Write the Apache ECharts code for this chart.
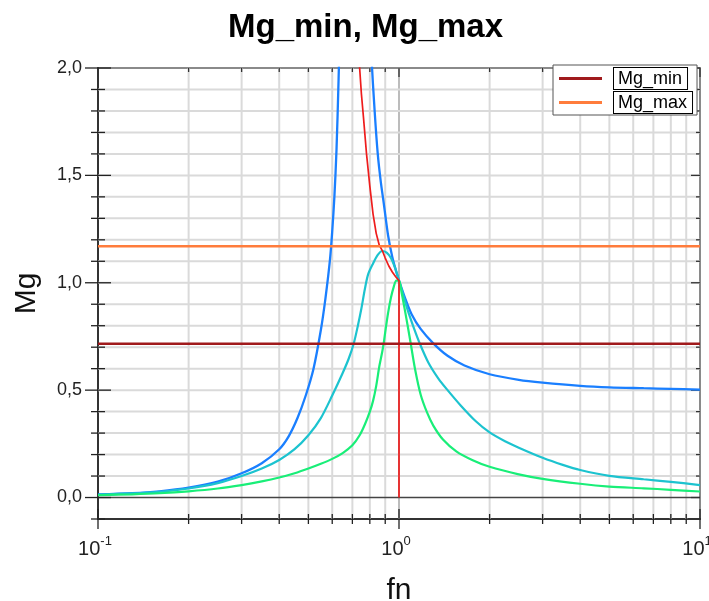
<!DOCTYPE html>
<html><head><meta charset="utf-8">
<script src="https://cdn.jsdelivr.net/npm/echarts@6/dist/echarts.min.js"></script>
<style>html,body{margin:0;padding:0;background:#fff}#c{width:709px;height:601px}</style>
</head><body><div id="c"></div>
<script>
// ---- data ----
const fnBlue = [0.1, 0.13, 0.16, 0.2, 0.25, 0.3, 0.35, 0.4, 0.43, 0.46, 0.49, 0.52, 0.55, 0.57, 0.59, 0.6, 0.61, 0.62, 0.63, 0.64, 0.7,
                0.79, 0.8, 0.81, 0.83, 0.85, 0.87, 0.89, 0.92, 0.95, 0.98, 1.0, 1.05, 1.1, 1.18, 1.3, 1.45, 1.65, 2.0, 2.5, 3.0, 4.0, 5.0, 6.5, 8.0, 10];
const mgBlue = [0.014, 0.02, 0.029, 0.046, 0.074, 0.113, 0.16, 0.225, 0.285, 0.37, 0.475, 0.6, 0.78, 0.93, 1.11, 1.24, 1.4, 1.62, 1.95, 2.35, null,
                2.5, 2.25, 2.05, 1.8, 1.6, 1.47, 1.37, 1.22, 1.12, 1.05, 1.01, 0.925, 0.855, 0.785, 0.718, 0.66, 0.615, 0.574, 0.548, 0.535, 0.52, 0.513, 0.509, 0.506, 0.502];

const fnCyan = [0.1, 0.13, 0.16, 0.2, 0.25, 0.3, 0.35, 0.4, 0.45, 0.5, 0.55, 0.6, 0.65, 0.68, 0.707, 0.73, 0.75, 0.77, 0.79, 0.82, 0.85, 0.88, 0.91, 0.94, 0.97, 1.0,
                1.03, 1.07, 1.12, 1.17, 1.25, 1.35, 1.45, 1.6, 1.8, 2.0, 2.25, 2.5, 3.0, 3.5, 4.0, 5.0, 6.5, 8.0, 10];
const mgCyan = [0.013, 0.019, 0.027, 0.042, 0.067, 0.1, 0.135, 0.175, 0.225, 0.29, 0.37, 0.475, 0.58, 0.645, 0.716, 0.8, 0.88, 0.97, 1.04, 1.09, 1.13, 1.148, 1.14, 1.115, 1.07, 1.01,
                0.95, 0.87, 0.79, 0.72, 0.63, 0.555, 0.5, 0.43, 0.355, 0.303, 0.262, 0.232, 0.185, 0.152, 0.128, 0.101, 0.085, 0.073, 0.058];

const fnGreen = [0.1, 0.13, 0.16, 0.2, 0.25, 0.3, 0.35, 0.4, 0.45, 0.5, 0.55, 0.6, 0.65, 0.7, 0.74, 0.77, 0.8, 0.82, 0.84, 0.86, 0.88, 0.89, 0.9, 0.92, 0.94, 0.96, 0.98, 1.0,
                 1.02, 1.05, 1.09, 1.13, 1.18, 1.24, 1.3, 1.4, 1.55, 1.75, 2.0, 2.5, 3.0, 4.0, 5.0, 6.5, 8.0, 10];
const mgGreen = [0.011, 0.015, 0.02, 0.029, 0.042, 0.058, 0.075, 0.093, 0.113, 0.135, 0.157, 0.18, 0.207, 0.243, 0.29, 0.34, 0.4, 0.45, 0.52, 0.61, 0.68, 0.72, 0.77, 0.86, 0.93, 0.98, 1.01, 1.01,
                 0.955, 0.86, 0.73, 0.6, 0.48, 0.395, 0.335, 0.27, 0.215, 0.175, 0.143, 0.108, 0.087, 0.064, 0.051, 0.043, 0.036, 0.028];

const fnRed = [0.73, 0.74, 0.75, 0.762, 0.78, 0.8, 0.82, 0.84, 0.86, 0.88, 0.9, 0.925, 0.95, 0.975, 1.0, 1.0];
const mgRed = [2.25, 2.0, 1.88, 1.77, 1.6, 1.45, 1.32, 1.23, 1.175, 1.15, 1.115, 1.078, 1.05, 1.028, 1.01, 0.0];

const fnSpan = [0.1, 10];
const mgMinLevel = 0.716;
const mgMaxLevel = 1.17;

const xTicksMajor = [0.1, 1, 10];
const xTicksMinor = [0.2, 0.3, 0.4, 0.5, 0.6, 0.7, 0.8, 0.9, 2, 3, 4, 5, 6, 7, 8, 9];
const yTicks = [-0.1, 0, 0.1, 0.2, 0.3, 0.4, 0.5, 0.6, 0.7, 0.8, 0.9, 1.0, 1.1, 1.2, 1.3, 1.4, 1.5, 1.6, 1.7, 1.8, 1.9, 2.0];
const yTicksMajor = [0, 0.5, 1.0, 1.5, 2.0];

// ---- helpers ----
const FONT = '"Liberation Sans", Arial, sans-serif';
function zip(xs, ys) { return xs.map((x, i) => [x, ys[i] === null ? '-' : ys[i]]); }

function renderXTick(params, api) {
  const v = api.value(0);
  const major = api.value(1) === 1;
  const cs = params.coordSys;
  const px = api.coord([v, 0])[0];
  const top = cs.y, bot = cs.y + cs.height;
  const ch = [];
  const edge = Math.abs(px - cs.x) < 1 || Math.abs(px - (cs.x + cs.width)) < 1;
  if (!edge) ch.push({type: 'line', shape: {x1: px, y1: top, x2: px, y2: bot}, style: {stroke: major ? '#bcbcbc' : '#dadada', lineWidth: 2}});
  const L = major ? 10 : 5, T = major ? 9 : 4;
  ch.push({type: 'line', shape: {x1: px, y1: bot - L, x2: px, y2: bot + L}, style: {stroke: '#222', lineWidth: 1.3}});
  ch.push({type: 'line', shape: {x1: px, y1: top, x2: px, y2: top + T}, style: {stroke: '#333', lineWidth: 1.3}});
  return {type: 'group', children: ch};
}
function renderYTick(params, api) {
  const v = api.value(1);
  const major = api.value(2) === 1;
  const cs = params.coordSys;
  const py = api.coord([1, v])[1];
  const left = cs.x, right = cs.x + cs.width;
  const ch = [];
  const edge = Math.abs(py - cs.y) < 1 || Math.abs(py - (cs.y + cs.height)) < 1;
  if (Math.abs(v) < 1e-9) {
    ch.push({type: 'line', shape: {x1: left, y1: py, x2: right, y2: py}, style: {stroke: '#444', lineWidth: 1.5}});
  } else if (!edge) {
    ch.push({type: 'line', shape: {x1: left, y1: py, x2: right, y2: py}, style: {stroke: '#dadada', lineWidth: 2}});
  }
  const L = major ? 13 : 7, T = major ? 9 : 4;
  ch.push({type: 'line', shape: {x1: left - L, y1: py, x2: left + L, y2: py}, style: {stroke: '#222', lineWidth: 1.3}});
  ch.push({type: 'line', shape: {x1: right - T, y1: py, x2: right, y2: py}, style: {stroke: '#333', lineWidth: 1.3}});
  return {type: 'group', children: ch};
}

const chart = echarts.init(document.getElementById('c'), null, {renderer: 'canvas'});
const curve = (name, xs, ys, color, w) => ({
  name, type: 'line', data: zip(xs, ys), showSymbol: false, symbol: 'none',
  smooth: 0.3, connectNulls: false, clip: true, z: 3,
  lineStyle: {color, width: w}, itemStyle: {color}
});

chart.setOption({
  animation: false,
  backgroundColor: '#fff',
  title: {
    text: 'Mg_min, Mg_max', left: 223, top: 6,
    textStyle: {fontSize: 33, fontWeight: 'bold', color: '#000', fontFamily: FONT}
  },
  grid: {left: 98, top: 68, right: 9, bottom: 82, outerBoundsMode: 'none', containLabel: false,
         show: true, borderColor: '#8a8a8a', borderWidth: 2, backgroundColor: 'transparent'},
  legend: {
    data: ['Mg_min', 'Mg_max'],
    orient: 'vertical', left: 553, top: 65,
    icon: 'rect', itemWidth: 43, itemHeight: 3, itemGap: 1,
    padding: [2, 4, 1, 6],
    borderColor: '#555', borderWidth: 1, backgroundColor: '#fff',
    selectedMode: false,
    formatter: n => '{g| }{b|' + n + '}',
    textStyle: {
      fontFamily: FONT,
      rich: {
        g: {width: 7, fontSize: 18, fontFamily: FONT},
        b: {fontSize: 18, fontFamily: FONT, color: '#000', borderColor: '#000', borderWidth: 1, padding: [2, 5, 1, 4], backgroundColor: '#fff'}
      }
    }
  },
  xAxis: {
    type: 'log', logBase: 10, min: 0.1, max: 10, interval: 1,
    name: 'fn', nameLocation: 'middle', nameGap: 57,
    nameTextStyle: {fontSize: 30, color: '#111', fontFamily: FONT},
    axisLine: {show: true, onZero: false, lineStyle: {color: '#333', width: 2}},
    axisTick: {show: false}, splitLine: {show: false}, minorTick: {show: false},
    axisLabel: {
      margin: 16, color: '#222', hideOverlap: false, padding: [0, 6, 0, 0],
      formatter: v => {
        const e = Math.log10(v);
        if (Math.abs(e - Math.round(e)) > 1e-6) return '';
        return '{n|10}{s|' + Math.round(e) + '}';
      },
      rich: {
        n: {fontSize: 20, fontFamily: FONT, color: '#222', verticalAlign: 'bottom'},
        s: {fontSize: 13, fontFamily: FONT, color: '#222', verticalAlign: 'bottom', padding: [0, 0, 11, 0]}
      }
    }
  },
  yAxis: {
    type: 'value', min: -0.1, max: 2.0, interval: 0.1,
    name: 'Mg', nameLocation: 'middle', nameGap: 56,
    nameTextStyle: {fontSize: 30, color: '#111', fontFamily: FONT},
    axisLine: {show: true, onZero: false, lineStyle: {color: '#333', width: 2}},
    axisTick: {show: false}, splitLine: {show: false},
    axisLabel: {
      margin: 16, fontSize: 18, color: '#222', fontFamily: FONT,
      formatter: v => {
        const k = Math.round(v * 10);
        if (k < 0 || k % 5 !== 0) return '';
        return (k / 10).toFixed(1).replace('.', ',');
      }
    }
  },
  series: [
    {
      type: 'custom', name: 'xgrid', silent: true, z: 1, clip: false,
      coordinateSystem: 'cartesian2d', encode: {x: 0, y: 1},
      data: xTicksMajor.map(v => [v, 1]).concat(xTicksMinor.map(v => [v, 0])),
      renderItem: renderXTick
    },
    {
      type: 'custom', name: 'ygrid', silent: true, z: 1, clip: false,
      coordinateSystem: 'cartesian2d', encode: {x: 0, y: 1},
      data: yTicks.map(v => [1, v, yTicksMajor.includes(v) ? 1 : 0]),
      renderItem: renderYTick
    },
    curve('blue', fnBlue, mgBlue, '#1a7fff', 2.3),
    curve('cyan', fnCyan, mgCyan, '#1cc3cf', 2.2),
    curve('green', fnGreen, mgGreen, '#19ee78', 2.2),
    Object.assign(curve('red', fnRed, mgRed, '#ee1c1c', 1.7), {smooth: false}),
    {
      name: 'Mg_min', type: 'line', showSymbol: false, symbol: 'none', z: 4,
      data: fnSpan.map(f => [f, mgMinLevel]),
      lineStyle: {color: '#a01a1c', width: 2.5}, itemStyle: {color: '#a01a1c'}
    },
    {
      name: 'Mg_max', type: 'line', showSymbol: false, symbol: 'none', z: 4,
      data: fnSpan.map(f => [f, mgMaxLevel]),
      lineStyle: {color: '#ff7c3c', width: 2.5}, itemStyle: {color: '#ff7c3c'}
    }
  ]
});
</script></body></html>
